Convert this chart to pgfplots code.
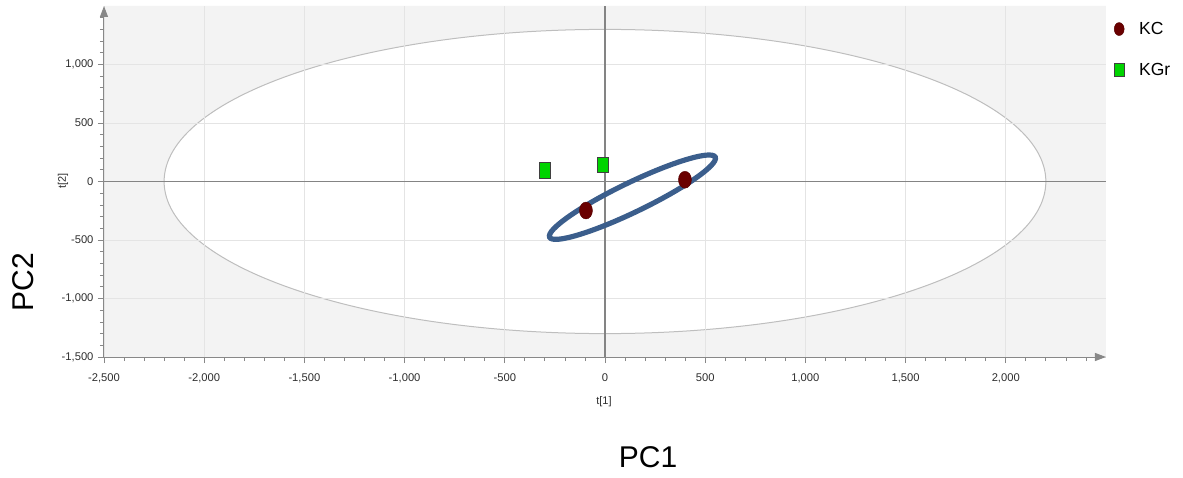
\documentclass[border=0pt]{standalone}
\usepackage{fontspec}
\setmainfont{Liberation Sans}
\usepackage{pgfplots}
\pgfplotsset{compat=1.18}
\usetikzlibrary{arrows.meta}
\definecolor{bgray}{HTML}{F3F3F3}
\definecolor{gridgray}{HTML}{E4E4E4}
\definecolor{ellgray}{HTML}{BEBEBE}
\definecolor{axgray}{HTML}{888888}
\definecolor{zerogray}{HTML}{848484}
\definecolor{kcred}{HTML}{6A0000}
\definecolor{kgrgreen}{HTML}{00D400}
\definecolor{ellblue}{HTML}{3B5E8C}
\definecolor{ticktext}{HTML}{2E2E2E}
\begin{document}
\begin{tikzpicture}
\path (-104pt,-120pt) rectangle (1079pt,357pt);
\begin{axis}[
  set layers,
  at={(0pt,0pt)}, anchor=south west,
  scale only axis, width=1002pt, height=351pt,
  xmin=-2500, xmax=2500, ymin=-1500, ymax=1500,
  clip=false,
  axis lines=left,
  axis line style={draw=axgray, line width=1pt, -{Triangle[length=11pt,width=8pt]}},
  xtick={-2500,-2000,...,2000}, ytick={-1500,-1000,...,1000},
  minor xtick={-2500,-2400,...,2400}, minor ytick={-1500,-1400,...,1400},
  tick align=outside,
  major tick length=6pt, minor tick length=4pt,
  every tick/.style={draw=axgray, line width=0.8pt},
  grid=major, major grid style={draw=gridgray, line width=0.8pt},
  extra x ticks={0}, extra y ticks={0}, extra x tick labels={}, extra y tick labels={},
  extra tick style={grid=major, major grid style={draw=zerogray, line width=1.4pt}, major tick length=0pt},
  tick label style={font=\fontsize{11.2}{13}\selectfont, text=ticktext},
  xticklabel style={yshift=-7pt},
  yticklabel style={xshift=-1pt},
  /pgf/number format/.cd, 1000 sep={,}, assume math mode=true, /pgfplots/.cd,
  xlabel={t[1]}, ylabel={t[2]},
  xlabel style={at={(axis description cs:0.499,-0.128)}, anchor=center, font=\fontsize{11}{13}\selectfont, text=ticktext},
  ylabel style={at={(axis description cs:-0.041,0.5014)}, anchor=center, font=\fontsize{11}{13}\selectfont, text=ticktext},
  legend style={at={(1,1)}, anchor=north west, draw=none, fill=none,
    font=\fontsize{17.5}{20}\selectfont, row sep=23pt, column sep=13pt, xshift=5pt, yshift=-12pt},
  legend image post style={mark size=5pt},
  legend cell align=left,
]
\begin{pgfonlayer}{axis background}
\fill[bgray, even odd rule] (rel axis cs:0,0) rectangle (rel axis cs:1,1) (axis cs:0,0) ellipse [x radius=2200, y radius=1300];
\draw[ellgray, line width=1pt] (axis cs:0,0) ellipse [x radius=2200, y radius=1300];
\end{pgfonlayer}
\draw[ellblue, line width=5.2pt, rotate around={25.8:(axis cs:137,-134)}] (axis cs:137,-134) ellipse [x radius=92pt, y radius=14.7pt];
\addplot[only marks, mark=*, mark size=6.5pt, mark options={fill=kcred, draw=kcred!80!black, yscale=1.3, line width=0.4pt}] coordinates {(-95,-248) (399,15)};
\addlegendentry{KC}
\addplot[only marks, mark=square*, mark size=5.8pt, mark options={fill=kgrgreen, draw=black!75, yscale=1.35, line width=0.8pt}] coordinates {(-300,95) (-10,143)};
\addlegendentry{KGr}
\node[font=\fontsize{30}{34}\selectfont] at (axis description cs:0.543,-0.285) {PC1};
\node[font=\fontsize{30}{34}\selectfont, rotate=90] at (axis description cs:-0.0808,0.2137) {PC2};
\end{axis}
\end{tikzpicture}
\end{document}
